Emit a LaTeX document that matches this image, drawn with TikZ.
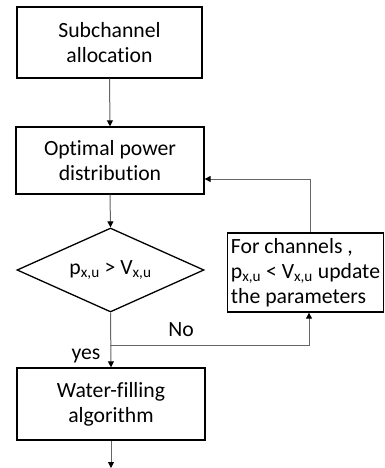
\documentclass[tikz,border=0pt]{standalone}
\usepackage{fontspec}
\setmainfont{Carlito}[Ligatures={NoCommon}]
\usetikzlibrary{shapes.geometric,arrows.meta}
\begin{document}
\begin{tikzpicture}[x=1pt,y=-1pt,
  box/.style={draw=black,line width=1.3pt,inner sep=0pt,align=center,font=\fontsize{21.7}{25}\selectfont},
  conn/.style={draw=black!60,line width=1pt},
  arr/.style={conn,-{Triangle[length=6pt,width=6pt,fill=black,color=black]}},
  lbl/.style={font=\fontsize{21.7}{25}\selectfont,inner sep=0pt}]
\useasboundingbox (0,0) rectangle (384,468);
\node[box,minimum width=185pt,minimum height=71pt] (b1) at (109.5,42.5) {Subchannel\\allocation};
\node[box,minimum width=188pt,minimum height=67pt] (b2) at (110,160.5) {Optimal power\\distribution};
\node[box,shape=diamond,shape aspect=2.2,minimum width=187pt,minimum height=84pt] (dia) at (110.5,270) {p\textsubscript{x,u} > V\textsubscript{x,u}};
\node[box,align=left,minimum width=156pt,minimum height=79pt] (upd) at (305.5,272.5) {For channels ,\\p\textsubscript{x,u} < V\textsubscript{x,u} update\\the parameters};
\node[box,minimum width=188pt,minimum height=72pt] (b3) at (111,404) {Water-filling\\algorithm};
\coordinate (j) at (110,345);
\coordinate (fx) at (309,0);
\coordinate (fb) at (310,179);
\coordinate (end) at (111,468);
\node[lbl] (no) at (181,330) {No};
\node[lbl] (yes) at (86,356) {yes};
\draw[arr] (b1.south) -- (b2.north);
\draw[arr] (b2.south) -- (dia.north);
\draw[arr] (dia.south) -- (b3.north);
\draw[arr] (j) -- (j -| fx) -- (fx |- upd.south);
\draw[arr] (fb |- upd.north) -- (fb) -- (fb -| b2.east);
\draw[arr] (b3.south) -- (end);
\end{tikzpicture}
\end{document}
